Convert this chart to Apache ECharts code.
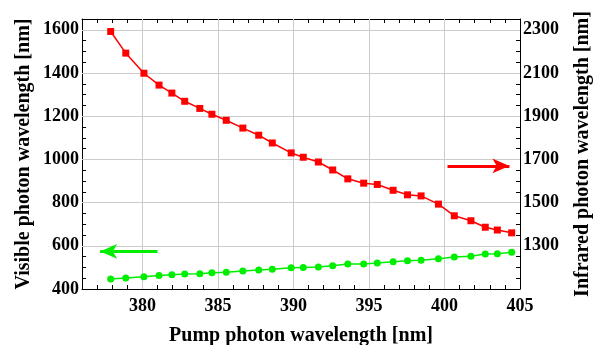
<!DOCTYPE html>
<html>
<head>
<meta charset="utf-8">
<script src="https://cdn.jsdelivr.net/npm/echarts@6/dist/echarts.min.js"></script>
<style>
  html, body { margin: 0; padding: 0; background: #fff; }
  #chart { width: 595px; height: 345px; }
</style>
</head>
<body>
<div id="chart"></div>
<script>
// pump wavelength [nm], shared by both curves
const pump = [377.9, 378.9, 380.1, 381.1, 381.95, 382.8, 383.8, 384.6, 385.55, 386.65,
  387.7, 388.6, 389.85, 390.65, 391.65, 392.6, 393.6, 394.65, 395.55, 396.6,
  397.55, 398.45, 399.6, 400.65, 401.75, 402.7, 403.5, 404.45];
// visible photon wavelength [nm] (left axis)
const visible = [446, 451, 457, 463, 466, 469, 471, 475, 478, 483,
  488, 492, 498, 500, 502, 508, 516, 516, 520, 526,
  531, 533, 540, 548, 552, 562, 563, 570];
// infrared photon wavelength [nm] (right axis)
const infrared = [2292, 2192, 2099, 2044, 2007, 1969, 1936, 1909, 1881, 1845,
  1812, 1776, 1730, 1710, 1688, 1651, 1610, 1590, 1584, 1557,
  1536, 1531, 1493, 1439, 1416, 1386, 1373, 1360];

const xGridValues = [380, 385, 390, 395, 400];
const yGridValues = [600, 800, 1000, 1200, 1400, 1600];
// arrows: [from, to]
const visibleArrow = [[381.0, 574], [377.2, 574]];
const infraredArrow = [[400.2, 1670], [404.3, 1670]];

const font = 'Liberation Serif';
const txt = { fontFamily: font, fontWeight: 'bold', fontSize: 18, color: '#000' };
const nameTxt = { fontFamily: font, fontWeight: 'bold', fontSize: 20, color: '#000' };
const black = { show: true, lineStyle: { color: '#000', width: 1 } };
const tick = { show: true, inside: true, length: 4, lineStyle: { color: '#000' } };

const chart = echarts.init(document.getElementById('chart'), null, { renderer: 'canvas' });

const xBase = { type: 'value', min: 376, max: 405, interval: 1, axisLine: black, axisTick: tick, splitLine: { show: false } };

chart.setOption({
  animation: false,
  backgroundColor: '#fff',
  grid: { left: 82, top: 19, right: 75, bottom: 56, outerBoundsMode: 'none', containLabel: false },
  xAxis: [
    Object.assign({}, xBase, {
      position: 'bottom',
      name: 'Pump photon wavelength [nm]',
      nameLocation: 'middle', nameGap: 37, nameMoveOverlap: false, nameTextStyle: nameTxt,
      axisLabel: Object.assign({}, txt, { margin: 8, formatter: v => (v % 5 === 0 ? v : '') })
    }),
    Object.assign({}, xBase, { position: 'top', axisLabel: { show: false } })
  ],
  yAxis: [
    {
      type: 'value', min: 400, max: 1650, interval: 50, position: 'left',
      name: 'Visible photon wavelength [nm]',
      nameLocation: 'middle', nameGap: 48, nameRotate: 90, nameMoveOverlap: false, nameTextStyle: nameTxt,
      axisLine: black, axisTick: tick, splitLine: { show: false },
      axisLabel: Object.assign({}, txt, { margin: 3, formatter: v => (v % 200 === 0 ? v : '') })
    },
    {
      type: 'value', min: 1100, max: 2350, interval: 50, position: 'right',
      name: 'Infrared photon wavelength [nm]',
      nameLocation: 'middle', nameGap: 53, nameRotate: 90, nameMoveOverlap: false, nameTextStyle: nameTxt,
      axisLine: black, axisTick: tick, splitLine: { show: false },
      axisLabel: Object.assign({}, txt, { margin: 3, formatter: v => (v >= 1300 && (v - 1300) % 200 === 0 ? v : '') })
    }
  ],
  series: [
    {
      // grid lines
      type: 'line', data: [], z: 1, silent: true,
      markLine: {
        silent: true, symbol: 'none', label: { show: false }, z: 1,
        lineStyle: { color: '#cccccc', width: 1, type: 'solid' },
        data: xGridValues.map(v => ({ xAxis: v })).concat(yGridValues.map(v => ({ yAxis: v })))
      }
    },
    {
      name: 'Visible', type: 'line', z: 3,
      data: pump.map((p, i) => [p, visible[i]]),
      yAxisIndex: 0,
      symbol: 'circle', symbolSize: 7,
      itemStyle: { color: '#00ee00' },
      lineStyle: { color: '#00ee00', width: 1.5 },
      markLine: {
        silent: true, symbol: ['none', 'arrow'], symbolSize: [11, 17], z: 3,
        label: { show: false },
        lineStyle: { color: '#00ee00', width: 3, type: 'solid' },
        data: [[{ coord: visibleArrow[0] }, { coord: visibleArrow[1] }]]
      }
    },
    {
      name: 'Infrared', type: 'line', z: 3,
      data: pump.map((p, i) => [p, infrared[i]]),
      yAxisIndex: 1,
      symbol: 'rect', symbolSize: 7,
      itemStyle: { color: '#ff0000' },
      lineStyle: { color: '#ff0000', width: 1.5 },
      markLine: {
        silent: true, symbol: ['none', 'arrow'], symbolSize: [11, 17], z: 3,
        label: { show: false },
        lineStyle: { color: '#ff0000', width: 3, type: 'solid' },
        data: [[{ coord: infraredArrow[0] }, { coord: infraredArrow[1] }]]
      }
    }
  ]
});
</script>
</body>
</html>
